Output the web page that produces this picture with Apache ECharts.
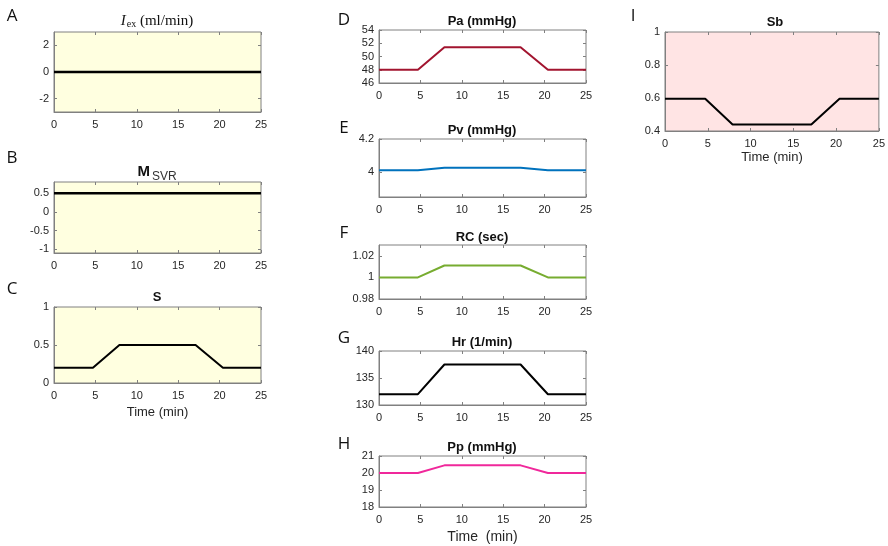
<!DOCTYPE html>
<html>
<head>
<meta charset="utf-8">
<script src="https://cdn.jsdelivr.net/npm/echarts@6/dist/echarts.min.js"></script>
<style>html,body{margin:0;padding:0;background:#fff}#c{width:888px;height:546px}</style>
</head>
<body>
<div id="c"></div>
<script>
// ---- data ----
const time = [0, 4.7, 7.9, 17.1, 20.4, 25];
const iex  = [0, 0, 0, 0, 0, 0];
const msvr = [0.5, 0.5, 0.5, 0.5, 0.5, 0.5];
const sVal = [0.2, 0.2, 0.5, 0.5, 0.2, 0.2];
const pa   = [48, 48, 51.4, 51.4, 48, 48];
const pv   = [4.012, 4.012, 4.026, 4.026, 4.012, 4.012];
const rc   = [1.0, 1.0, 1.011, 1.011, 1.0, 1.0];
const hr   = [132, 132, 137.5, 137.5, 132, 132];
const pp   = [20, 20, 20.45, 20.45, 20, 20];
const sb   = [0.595, 0.595, 0.44, 0.44, 0.595, 0.595];

const xTicks = [0, 5, 10, 15, 20, 25];
const yTicksA = [-2, 0, 2];
const yTicksB = [-1, -0.5, 0, 0.5];
const yTicksC = [0, 0.5, 1];
const yTicksD = [46, 48, 50, 52, 54];
const yTicksE = [4, 4.2];
const yTicksF = [0.98, 1, 1.02];
const yTicksG = [130, 135, 140];
const yTicksH = [18, 19, 20, 21];
const yTicksI = [0.4, 0.6, 0.8, 1];

const panels = [
  {vals: iex,  ticks: yTicksA, yr: [-3, 3],       g: [54, 32, 207, 80],  color: '#000', bg: '#FFFFE0', lw: 2.5},
  {vals: msvr, ticks: yTicksB, yr: [-1.1, 0.8],   g: [54, 182, 207, 71], color: '#000', bg: '#FFFFE0', lw: 2.5},
  {vals: sVal, ticks: yTicksC, yr: [0, 1],        g: [54, 307, 207, 76], color: '#000', bg: '#FFFFE0', lw: 2, xname: 'Time (min)', gap: 23},
  {vals: pa,   ticks: yTicksD, yr: [46, 54],      g: [379, 30, 207, 53], color: '#A2142F', lw: 2},
  {vals: pv,   ticks: yTicksE, yr: [3.85, 4.2],   g: [379, 139, 207, 58], color: '#0072BD', lw: 2},
  {vals: rc,   ticks: yTicksF, yr: [0.98, 1.03],  g: [379, 245, 207, 54], color: '#77AC30', lw: 2},
  {vals: hr,   ticks: yTicksG, yr: [130, 140],    g: [379, 351, 207, 54], color: '#000', lw: 2},
  {vals: pp,   ticks: yTicksH, yr: [18, 21],      g: [379, 456, 207, 51], color: '#F0289B', lw: 2, xname: 'Time  (min)', xbig: true, gap: 23},
  {vals: sb,   ticks: yTicksI, yr: [0.4, 1],      g: [665, 32, 220, 99],  color: '#000', bg: '#FFE4E4', lw: 2, xname: 'Time (min)', gap: 20}
];

const labelFont = 'Liberation Sans';
const axisCol = '#808080';
const grid = [], xAxis = [], yAxis = [], series = [];
panels.forEach((p, k) => {
  grid.push({left: p.g[0], top: p.g[1], width: p.g[2], height: p.g[3],
    show: true, backgroundColor: p.bg || '#fff', borderColor: axisCol, borderWidth: 1});
  const xb = {
    type: 'value', gridIndex: k, min: 0, max: 25, interval: 5, position: 'bottom',
    axisLine: {show: true, onZero: false, lineStyle: {color: axisCol}},
    axisTick: {show: true, inside: true, length: 3, lineStyle: {color: axisCol}},
    axisLabel: {show: true, color: '#262626', fontSize: 11, fontFamily: labelFont, margin: 7},
    splitLine: {show: false}
  };
  if (p.xname) {
    xb.name = p.xname; xb.nameLocation = 'middle'; xb.nameGap = p.gap;
    xb.nameTextStyle = {color: '#262626', fontSize: p.xbig ? 14 : 13, fontFamily: labelFont};
  }
  xAxis.push(xb);
  xAxis.push({type: 'value', gridIndex: k, min: 0, max: 25, interval: 5, position: 'top',
    axisLine: {show: false, onZero: false}, axisTick: {show: true, inside: true, length: 3, lineStyle: {color: axisCol}},
    axisLabel: {show: false}, splitLine: {show: false}});
  yAxis.push({type: 'value', gridIndex: k, min: p.yr[0], max: p.yr[1], position: 'left',
    axisLine: {show: true, onZero: false, lineStyle: {color: axisCol}},
    axisTick: {show: true, inside: true, length: 3, customValues: p.ticks, lineStyle: {color: axisCol}},
    axisLabel: {show: true, customValues: p.ticks, color: '#262626', fontSize: 11, fontFamily: labelFont, margin: 5},
    splitLine: {show: false}});
  yAxis.push({type: 'value', gridIndex: k, min: p.yr[0], max: p.yr[1], position: 'right',
    axisLine: {show: false, onZero: false}, axisTick: {show: true, inside: true, length: 3, customValues: p.ticks, lineStyle: {color: axisCol}},
    axisLabel: {show: false}, splitLine: {show: false}});
  series.push({type: 'line', xAxisIndex: 2 * k, yAxisIndex: 2 * k,
    data: time.map((t, i) => [t, p.vals[i]]), showSymbol: false, symbol: 'none',
    lineStyle: {color: p.color, width: p.lw}, silent: true, animation: false});
});

function txt(x, y, text, font) {
  return {type: 'text', x: x, y: y, silent: true,
    style: {text: text, font: font, fill: '#111', textAlign: 'center', align: 'center',
      textVerticalAlign: 'middle', verticalAlign: 'middle'}};
}
const boldT = 'bold 13px "Liberation Sans", Arial, sans-serif';
const letterF = '17px "Open Sans", "Liberation Sans", sans-serif';
const graphic = [
  txt(12, 16, 'A', letterF), txt(12, 158, 'B', letterF), txt(12, 289, 'C', letterF),
  txt(344, 20, 'D', letterF), txt(344, 128, 'E', letterF), txt(344, 233, 'F', letterF),
  txt(344, 338, 'G', letterF), txt(344, 444, 'H', letterF), txt(633, 16, 'I', letterF),
  {type: 'text', x: 157, y: 21, silent: true, style: {
    text: '{i|I}{s|ex}{n| (ml/min)}', align: 'center', textAlign: 'center', verticalAlign: 'middle', textVerticalAlign: 'middle',
    rich: {
      i: {fontFamily: '"Liberation Serif", serif', fontStyle: 'italic', fontSize: 15, fill: '#111', color: '#111'},
      s: {fontFamily: '"Liberation Serif", serif', fontSize: 10, fill: '#111', color: '#111', padding: [7, 0, 0, 1]},
      n: {fontFamily: '"Liberation Serif", serif', fontSize: 15, fill: '#111', color: '#111'}
    }}},
  {type: 'text', x: 157, y: 172, silent: true, style: {
    text: '{m|M}{s|SVR}', align: 'center', textAlign: 'center', verticalAlign: 'middle', textVerticalAlign: 'middle',
    rich: {
      m: {fontFamily: '"Liberation Sans", sans-serif', fontWeight: 'bold', fontSize: 15, fill: '#111', color: '#111'},
      s: {fontFamily: '"Liberation Sans", sans-serif', fontSize: 12, fill: '#333', color: '#333', padding: [10, 0, 0, 2]}
    }}},
  txt(157, 297, 'S', boldT),
  txt(482, 21, 'Pa (mmHg)', boldT),
  txt(482, 130, 'Pv (mmHg)', boldT),
  txt(482, 237, 'RC (sec)', boldT),
  txt(482, 342, 'Hr (1/min)', boldT),
  txt(482, 447, 'Pp (mmHg)', boldT),
  txt(775, 22, 'Sb', boldT)
];

const chart = echarts.init(document.getElementById('c'), null, {renderer: 'canvas'});
chart.setOption({animation: false, backgroundColor: '#fff', grid, xAxis, yAxis, series, graphic});
</script>
</body>
</html>
